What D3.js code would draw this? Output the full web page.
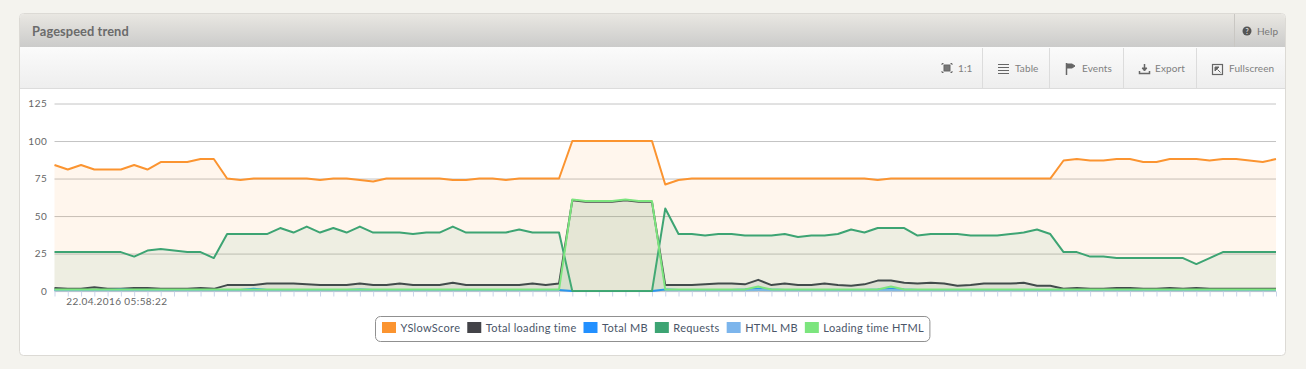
<!DOCTYPE html>
<html>
<head>
<meta charset="utf-8">
<script src="https://cdn.jsdelivr.net/npm/d3@7"></script>
<style>
html, body { margin: 0; padding: 0; background: #f4f3ee; overflow: hidden; }
text { font-family: Lato, sans-serif; }
</style>
</head>
<body>
<div id="chart"></div>
<script>
// values, one per tick
const yslowScore = [
    84,81,84,81,81,81,84,81,86,86,
    86,88,88,75,74,75,75,75,75,75,
    74,75,75,74,73,75,75,75,75,75,
    74,74,75,75,74,75,75,75,75,100,
    100,100,100,100,100,100,71,74,75,75,
    75,75,75,75,75,75,75,75,75,75,
    75,75,74,75,75,75,75,75,75,75,
    75,75,75,75,75,75,87,88,87,87,
    88,88,86,86,88,88,88,87,88,88,
    87,86,88
]
const totalLoading = [
    2,1.5,1.5,2.5,1.5,1.5,2,2,1.5,1.5,
    1.5,2,1.5,4,4,4,5,5,5,4.5,
    4,4,4,5,4,4,5,4,4,4,
    5.5,4,4,4,4,4,5,4,5,60.5,
    59.5,59.5,59.5,60.5,59.5,59.5,4,4,4,4.5,
    5,5,4.5,7.5,4,5,4,4,5,4,
    3.5,4.5,7,7,5.5,5,5.5,5,3.5,4,
    5,5,5,5.5,3.5,3.5,1.5,2,1.5,1.5,
    2,2,1.5,1.5,2,1.5,2,1.5,1.5,1.5,
    1.5,1.5,1.5
]
const totalMb = [
    0.8,0.8,0.8,0.8,0.8,1,0.8,0.8,0.8,0.8,
    0.8,0.8,0.8,0.8,0.8,1.5,0.8,0.8,0.8,0.8,
    0.8,0.8,0.8,1,0.8,0.8,0.8,0.8,0.8,0.8,
    0.8,0.8,0.8,0.8,0.8,0.8,0.8,0.8,0.8,0,
    0,0,0,0,0,0,1,0.8,0.8,0.8,
    0.8,0.8,1,1.5,1,0.8,0.8,0.8,0.8,0.8,
    0.8,0.8,1,1.5,1,0.8,0.8,0.8,0.8,0.8,
    0.8,0.8,0.8,0.8,0.8,0.8,0.8,0.8,0.8,0.8,
    0.8,0.8,0.8,0.8,0.8,0.8,0.8,0.8,0.8,0.8,
    0.8,0.8,0.8
]
const requests = [
    26,26,26,26,26,26,23,27,28,27,
    26,26,22,38,38,38,38,42,39,43,
    39,42,39,43,39,39,39,38,39,39,
    43,39,39,39,39,41,39,39,39,0,
    0,0,0,0,0,0,55,38,38,37,
    38,38,37,37,37,38,36,37,37,38,
    41,39,42,42,42,37,38,38,38,37,
    37,37,38,39,41,38,26,26,23,23,
    22,22,22,22,22,22,18,22,26,26,
    26,26,26
]
// no reading under the green line between the two jumps
const htmlMb = [
    0.6,0.6,0.6,0.6,0.6,0.6,0.6,0.6,0.6,0.6,
    0.6,0.6,0.6,0.6,0.6,0.6,0.6,0.6,0.6,0.6,
    0.6,0.6,0.6,0.6,0.6,0.6,0.6,0.6,0.6,0.6,
    0.6,0.6,0.6,0.6,0.6,0.6,0.6,0.6,0.6,null,
    null,null,null,null,null,null,0.6,0.6,0.6,0.6,
    0.6,0.6,0.6,0.8,0.6,0.6,0.6,0.6,0.6,0.6,
    0.6,0.6,0.6,0.8,0.6,0.6,0.6,0.6,0.6,0.6,
    0.6,0.6,0.6,0.6,0.6,0.6,0.6,0.6,0.6,0.6,
    0.6,0.6,0.6,0.6,0.6,0.6,0.6,0.6,0.6,0.6,
    0.6,0.6,0.6
]
const loadingHtml = [
    1,1,1,1,1,1,1,1,1,1,
    1,1,1,1,1,1,1,1,1,1,
    1,1,1,1,1,1,1,1,1,1,
    1,1,1,1,1,1,1,1,1,61,
    60,60,60,61,60,60,1,1,1,1,
    1,1,1,3,1,1,1,1,1,1,
    1,1,1,3,1,1,1,1,1,1,
    1,1,1,1,1,1,1,1,1,1,
    1,1,1,1,1,1,1,1,1,1,
    1,1,1
]
const seriesNames = ["YSlowScore", "Total loading time", "Total MB", "Requests", "HTML MB", "Loading time HTML"]
const seriesColors = ["#fb9430", "#434348", "#2290ff", "#3da473", "#7cb5ec", "#7ce57e"]
const seriesValues = [yslowScore, totalLoading, totalMb, requests, htmlMb, loadingHtml]
const yTicks = [0, 25, 50, 75, 100, 125]
const firstDateLabel = "22.04.2016 05:58:22"
const toolbarLabels = ["1:1", "Table", "Events", "Export", "Fullscreen"]

const width = 1306
const height = 369
const margin = { top: 103.5, right: 30, bottom: 77.5, left: 54.5 }
const panel = { x: 19.5, y: 13.5, w: 1266, h: 342 }

const svg = d3.select("#chart").append("svg")
    .attr("width", width)
    .attr("height", height)
    .style("display", "block")

const defs = svg.append("defs")
function gradient(id, top, bottom) {
    const g = defs.append("linearGradient").attr("id", id)
        .attr("x1", 0).attr("x2", 0).attr("y1", 0).attr("y2", 1)
    g.append("stop").attr("offset", 0).attr("stop-color", top)
    g.append("stop").attr("offset", 1).attr("stop-color", bottom)
}
gradient("headGrad", "#e9e7e2", "#cbcbca")
gradient("toolGrad", "#fbfbfb", "#eeeeee")

// panel
svg.append("rect")
    .attr("x", panel.x).attr("y", panel.y)
    .attr("width", panel.w).attr("height", panel.h)
    .attr("rx", 4)
    .attr("fill", "#fff")
    .attr("stroke", "#dcdad5")
svg.append("path")
    .attr("d", "M20,47V18a4,4 0 0 1 4,-4H1281a4,4 0 0 1 4,4V47Z")
    .attr("fill", "url(#headGrad)")
svg.append("rect")
    .attr("x", 20).attr("y", 47).attr("width", 1265).attr("height", 41)
    .attr("fill", "url(#toolGrad)")
svg.append("line")
    .attr("x1", 20).attr("x2", 1285).attr("y1", 88.5).attr("y2", 88.5)
    .attr("stroke", "#dcdcdc")
svg.append("text")
    .attr("x", 32).attr("y", 36)
    .attr("font-size", 12.8).attr("font-weight", 700)
    .attr("letter-spacing", 0.1)
    .attr("fill", "#6b6b6b")
    .text("Pagespeed trend")

// help button
svg.append("line")
    .attr("x1", 1234.5).attr("x2", 1234.5).attr("y1", 14).attr("y2", 47)
    .attr("stroke", "#c9c7c3")
svg.append("circle")
    .attr("cx", 1247).attr("cy", 31).attr("r", 4.5).attr("fill", "#555")
svg.append("text")
    .attr("x", 1247).attr("y", 33.5)
    .attr("text-anchor", "middle").attr("font-size", 7).attr("font-weight", 700)
    .attr("fill", "#ddd").text("?")
svg.append("text")
    .attr("x", 1257).attr("y", 35)
    .attr("font-size", 10).attr("letter-spacing", 0.1).attr("fill", "#777").text("Help")

// toolbar
const toolbarText = [958, 1015, 1082, 1155, 1229]
const toolbarDividers = [982.5, 1049.5, 1123.5, 1196.5]
svg.selectAll(".tool-divider").data(toolbarDividers).enter().append("line")
    .attr("class", "tool-divider")
    .attr("x1", d => d).attr("x2", d => d).attr("y1", 48).attr("y2", 88)
    .attr("stroke", "#dcdcdc")
svg.selectAll(".tool-label").data(toolbarLabels).enter().append("text")
    .attr("class", "tool-label")
    .attr("x", (d, i) => toolbarText[i]).attr("y", 72)
    .attr("font-size", 10).attr("letter-spacing", 0.1).attr("fill", "#808080")
    .text(d => d)

const icons = svg.append("g").attr("fill", "none").attr("stroke", "#666").attr("stroke-width", 1)
icons.append("rect").attr("x", 944).attr("y", 65).attr("width", 6).attr("height", 6).attr("fill", "#777")
icons.append("path").attr("d", "M942,65V63.5H943.5M950.5,63.5H952V65M952,71V72.5H950.5M943.5,72.5H942V71")
icons.append("path").attr("d", "M998,64.5H1009M998,67.5H1009M998,70.5H1009M998,73.5H1009")
icons.append("path").attr("d", "M1066.5,63V75").attr("stroke-width", 1.5)
icons.append("path").attr("d", "M1067,64H1072L1075,66L1072,68H1067Z").attr("fill", "#666")
icons.append("path").attr("d", "M1139.5,71V73.5H1149.5V71M1144.5,64V70").attr("stroke-width", 1.5)
icons.append("path").attr("d", "M1142,68L1144.5,71L1147,68Z").attr("fill", "#666")
icons.append("rect").attr("x", 1212.5).attr("y", 64.5).attr("width", 10).attr("height", 10).attr("stroke-width", 1.2)
icons.append("path").attr("d", "M1215,67H1219L1215,71Z M1217.5,69.5L1220.5,72.5").attr("fill", "#666")

// scales
const plotW = width - margin.left - margin.right
const plotH = height - margin.top - margin.bottom
const chart = svg.append("g")
    .attr("transform", "translate(" + margin.left + "," + margin.top + ")")
const x = d3.scaleLinear().domain([0, yslowScore.length - 1]).range([0, plotW])
const y = d3.scaleLinear().domain([0, 125]).range([plotH - 0.4, 0])

// axes
const yAxis = d3.axisLeft(y).tickValues(yTicks).tickSize(-plotW).tickPadding(7)
const yAxisG = chart.append("g").call(yAxis)
yAxisG.select(".domain").remove()
yAxisG.selectAll(".tick line").attr("stroke", "#c4c4c4")
yAxisG.selectAll(".tick text")
    .attr("font-size", 10)
    .attr("letter-spacing", 0.6)
    .attr("fill", "#666")
    .style("font-family", "Lato, sans-serif")

// only the second tick carries the date label, hung to the right of it
const xAxis = d3.axisBottom(x)
    .tickValues(d3.range(yslowScore.length))
    .tickSize(5)
    .tickPadding(1)
    .tickFormat((d, i) => i === 1 ? firstDateLabel : "")
const xAxisG = chart.append("g")
    .attr("transform", "translate(0," + plotH + ")")
    .call(xAxis)
xAxisG.select(".domain").remove()
xAxisG.selectAll(".tick line").attr("stroke", "#ccd6eb")
xAxisG.selectAll(".tick text")
    .attr("text-anchor", "start")
    .attr("dx", -2)
    .attr("font-size", 10)
    .attr("letter-spacing", 0.4)
    .attr("fill", "#666")
    .style("font-family", "Lato, sans-serif")

// areas, then lines, in legend order
const hasValue = d => d !== null
const area = d3.area().defined(hasValue).x((d, i) => x(i)).y0(y(0)).y1(d => y(d))
const line = d3.line().defined(hasValue).x((d, i) => x(i)).y(d => y(d))
seriesValues.forEach(function(values, i) {
    chart.append("path")
        .attr("d", area(values))
        .attr("fill", seriesColors[i])
        .attr("fill-opacity", 0.085)
    chart.append("path")
        .attr("d", line(values))
        .attr("fill", "none")
        .attr("stroke", seriesColors[i])
        .attr("stroke-width", 2)
        .attr("stroke-linejoin", "round")
})

// legend
const legend = svg.append("g")
let legendX = 382
seriesNames.forEach(function(name, i) {
    const item = legend.append("g").attr("transform", "translate(" + legendX + ",322)")
    item.append("rect")
        .attr("width", 14).attr("height", 11)
        .attr("fill", seriesColors[i])
    const label = item.append("text")
        .attr("x", 18.5).attr("y", 10)
        .attr("font-size", 11)
        .attr("letter-spacing", 0.3)
        .attr("fill", "#4a5568")
        .text(name)
    legendX += 18.5 + label.node().getComputedTextLength() + 7
})
legend.insert("rect", ":first-child")
    .attr("x", 375.5).attr("y", 316.5)
    .attr("width", legendX - 375.5 - 1).attr("height", 25)
    .attr("rx", 5)
    .attr("fill", "#fff")
    .attr("stroke", "#909090")
</script>
</body>
</html>
